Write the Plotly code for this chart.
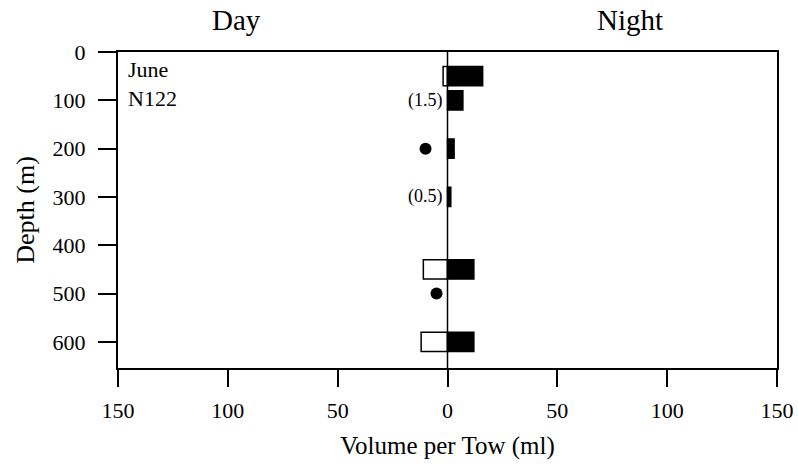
import plotly.graph_objects as go

depths = [50, 100, 200, 300, 450, 600]
day_vol = [2, None, None, None, 11, 12]
night_vol = [16, 7, 3, 1.5, 12, 12]
dot_depths = [200, 500]
dot_vol = [10, 5]
note_depths = [100, 300]
note_text = ["(1.5)", "(0.5)"]
xticks = [-150, -100, -50, 0, 50, 100, 150]
xtick_text = ["150", "100", "50", "0", "50", "100", "150"]
yticks = [0, 100, 200, 300, 400, 500, 600]

FONT = "Liberation Serif"

fig = go.Figure()
fig.add_trace(go.Bar(
    y=depths, x=[-v if v is not None else None for v in day_vol], orientation="h",
    width=40, marker=dict(color="white", line=dict(color="black", width=1.5)),
    showlegend=False))
fig.add_trace(go.Bar(
    y=depths, x=night_vol, orientation="h",
    width=40, marker=dict(color="black", line=dict(color="black", width=1.5)),
    showlegend=False))
fig.add_trace(go.Scatter(
    y=dot_depths, x=[-v for v in dot_vol], mode="markers",
    marker=dict(color="black", size=12), showlegend=False))

for d, t in zip(note_depths, note_text):
    fig.add_annotation(x=-1, y=d, text=t, showarrow=False, xanchor="right",
                       font=dict(family=FONT, size=18, color="black"))

fig.add_annotation(xref="paper", yref="paper", x=0.012, y=0.99, xanchor="left", yanchor="top",
                   text="June<br>N122", showarrow=False, align="left",
                   font=dict(family=FONT, size=22, color="black"))
fig.add_annotation(x=-96, yref="paper", y=1, yanchor="bottom", yshift=14, text="Day",
                   showarrow=False, font=dict(family=FONT, size=29, color="black"))
fig.add_annotation(x=83, yref="paper", y=1, yanchor="bottom", yshift=14, text="Night",
                   showarrow=False, font=dict(family=FONT, size=29, color="black"))

fig.add_shape(type="line", x0=0, x1=0, yref="paper", y0=0, y1=1,
              line=dict(color="black", width=1.5))

fig.update_layout(
    width=798, height=472,
    margin=dict(l=118, r=21, t=52, b=104, autoexpand=False),
    plot_bgcolor="white", paper_bgcolor="white",
    barmode="overlay",
    font=dict(family=FONT, size=22, color="black"),
    xaxis=dict(range=[-150, 150], tickvals=xticks, ticktext=xtick_text,
               ticks="outside", ticklen=17, tickwidth=1.5, tickcolor="black",
               showline=True, linecolor="black", linewidth=2, mirror=True,
               showgrid=False, zeroline=False, ticklabelstandoff=5, automargin=False,
               tickfont=dict(family=FONT, size=22),
               title=dict(text="Volume per Tow (ml)", standoff=14,
                          font=dict(family=FONT, size=25))),
    yaxis=dict(range=[654, 0], tickvals=yticks,
               ticks="outside", ticklen=18, tickwidth=1.5, tickcolor="black",
               showline=True, linecolor="black", linewidth=2, mirror=True,
               showgrid=False, zeroline=False, ticklabelstandoff=8, automargin=False,
               tickfont=dict(family=FONT, size=22),
               title=dict(text="Depth (m)", standoff=10,
                          font=dict(family=FONT, size=26))),
)

fig.write_html("out.html")
